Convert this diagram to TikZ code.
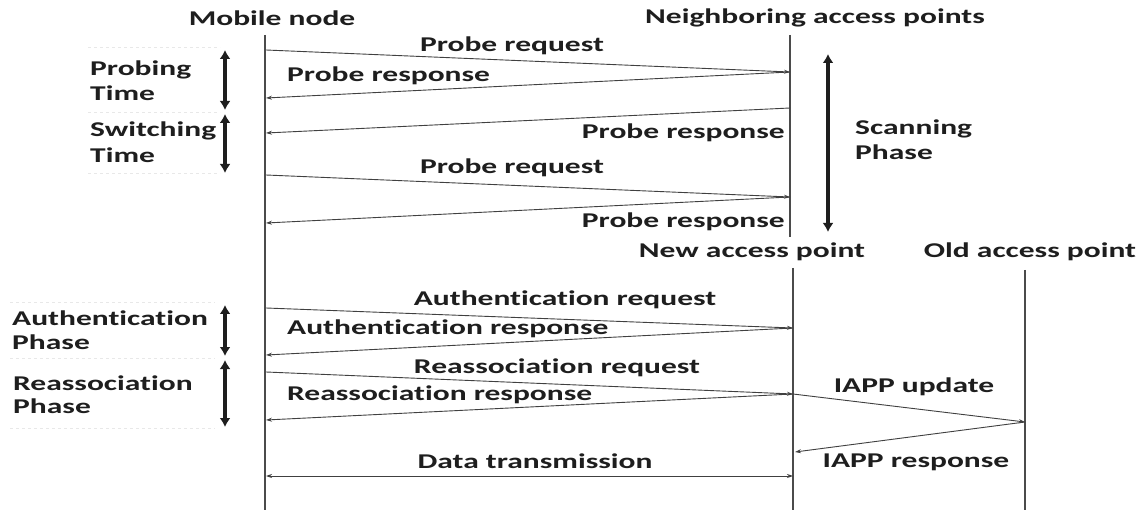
\documentclass[tikz,border=0pt]{standalone}
\usepackage{fontspec}
\newfontfamily\lblfont[FakeStretch=1.5,Ligatures=NoCommon,Contextuals=NoAlternate]{Carlito}
\usetikzlibrary{arrows.meta}
\definecolor{ink}{HTML}{1E1E1E}
\tikzset{
  lbl/.style={font=\lblfont\bfseries\fontsize{21}{24}\selectfont, text=ink, inner sep=0pt},
  life/.style={draw=ink!80, line width=1.1pt},
  msg/.style={draw=ink!85, line width=0.9pt, -{Stealth[length=6pt,width=4pt]}},
  msgboth/.style={draw=ink!85, line width=0.9pt, {Stealth[length=6pt,width=4pt]}-{Stealth[length=6pt,width=4pt]}},
  phase/.style={draw=ink, line width=3.4pt, {Latex[length=9pt,width=11pt]}-{Latex[length=9pt,width=11pt]}},
  faint/.style={draw=gray!18, line width=0.8pt, dashed}
}
\begin{document}
\begin{tikzpicture}[x=1pt,y=-1pt]
\useasboundingbox (0,0) rectangle (1145,510);
\fill[white] (0,0) rectangle (1145,510);

% titles
\node[lbl] (mnT) at (272,18) {Mobile node};
\node[lbl] (naT) at (815,18) {Neighboring access points};
\node[lbl] (newT) at (752,252) {New access point};
\node[lbl] (oldT) at (1030,252) {Old access point};

% lifeline ends
\coordinate (mnTop) at (265,35);
\coordinate (mnBot) at (265,510);
\coordinate (naTop) at (790,35);
\coordinate (naBot) at (790,237);
\coordinate (newTop) at (793,268);
\coordinate (newBot) at (793,510);
\coordinate (oldTop) at (1025,270);
\coordinate (oldBot) at (1025,510);
\draw[life] (mnTop) -- (mnBot);
\draw[life] (naTop) -- (naBot);
\draw[life] (newTop) -- (newBot);
\draw[life] (oldTop) -- (oldBot);

% message points
\coordinate (m1) at (266,50);  \coordinate (a1) at (790,72);
\coordinate (m2) at (266,98);
\coordinate (a3) at (790,108); \coordinate (m3) at (266,133);
\coordinate (m4) at (266,175); \coordinate (a4) at (790,197);
\coordinate (m5) at (266,223);
\coordinate (m6) at (266,308); \coordinate (n6) at (793,328);
\coordinate (m7) at (266,355);
\coordinate (m8) at (266,372); \coordinate (n8) at (793,394);
\coordinate (m9) at (266,420);
\coordinate (o1) at (1025,422);
\coordinate (n10) at (795,452);
\coordinate (m11) at (266,476); \coordinate (n11) at (793,476);

\draw[msg] (m1) -- (a1);
\draw[msg] (a1) -- (m2);
\draw[msg] (a3) -- (m3);
\draw[msg] (m4) -- (a4);
\draw[msg] (a4) -- (m5);
\draw[msg] (m6) -- (n6);
\draw[msg] (n6) -- (m7);
\draw[msg] (m8) -- (n8);
\draw[msg] (n8) -- (m9);
\draw[msg] (n8) -- (o1);
\draw[msg] (o1) -- (n10);
\draw[msgboth] (m11) -- (n11);

% message labels
\node[lbl] (l1) at (512,46) {Probe request};
\node[lbl, anchor=west] (l2) at (287,76) {Probe response};
\node[lbl, anchor=east] (l3) at (785,133) {Probe response};
\node[lbl] (l4) at (512,168) {Probe request};
\node[lbl, anchor=east] (l5) at (785,222) {Probe response};
\node[lbl] (l6) at (565,300) {Authentication request};
\node[lbl, anchor=west] (l7) at (287,329) {Authentication response};
\node[lbl] (l8) at (557,368) {Reassociation request};
\node[lbl, anchor=west] (l9) at (287,395) {Reassociation response};
\node[lbl] (l10) at (914,387) {IAPP update};
\node[lbl] (l11) at (916,462) {IAPP response};
\node[lbl] (l12) at (535,461) {Data transmission};

% faint separators
\coordinate (f1a) at (88,47);  \coordinate (f1b) at (220,47);
\coordinate (f2a) at (88,112); \coordinate (f2b) at (220,112);
\coordinate (f3a) at (88,173); \coordinate (f3b) at (220,173);
\coordinate (f4a) at (10,302); \coordinate (f4b) at (215,302);
\coordinate (f5a) at (10,358); \coordinate (f5b) at (215,358);
\coordinate (f6a) at (10,428); \coordinate (f6b) at (215,428);
\draw[faint] (f1a) -- (f1b);
\draw[faint] (f2a) -- (f2b);
\draw[faint] (f3a) -- (f3b);
\draw[faint] (f4a) -- (f4b);
\draw[faint] (f5a) -- (f5b);
\draw[faint] (f6a) -- (f6b);

% phase arrows
\coordinate (p1a) at (225,50);  \coordinate (p1b) at (225,110);
\coordinate (p2a) at (225,114); \coordinate (p2b) at (225,173);
\coordinate (p3a) at (225,305); \coordinate (p3b) at (225,356);
\coordinate (p4a) at (225,360); \coordinate (p4b) at (225,427);
\coordinate (p5a) at (828,54);  \coordinate (p5b) at (828,232);
\draw[phase] (p1a) -- (p1b);
\draw[phase] (p2a) -- (p2b);
\draw[phase] (p3a) -- (p3b);
\draw[phase] (p4a) -- (p4b);
\draw[phase] (p5a) -- (p5b);

% phase labels
\node[lbl, anchor=west] (t1) at (90,70) {Probing};
\node[lbl, anchor=west] (t2) at (90,93) {Time};
\node[lbl, anchor=west] (t3) at (90,131) {Switching};
\node[lbl, anchor=west] (t4) at (90,155) {Time};
\node[lbl, anchor=west] (t5) at (855,129) {Scanning};
\node[lbl, anchor=west] (t6) at (855,152) {Phase};
\node[lbl, anchor=west] (t7) at (12,318) {Authentication};
\node[lbl, anchor=west] (t8) at (12,342) {Phase};
\node[lbl, anchor=west] (t9) at (13,383) {Reassociation};
\node[lbl, anchor=west] (t10) at (13,406) {Phase};
\end{tikzpicture}
\end{document}
